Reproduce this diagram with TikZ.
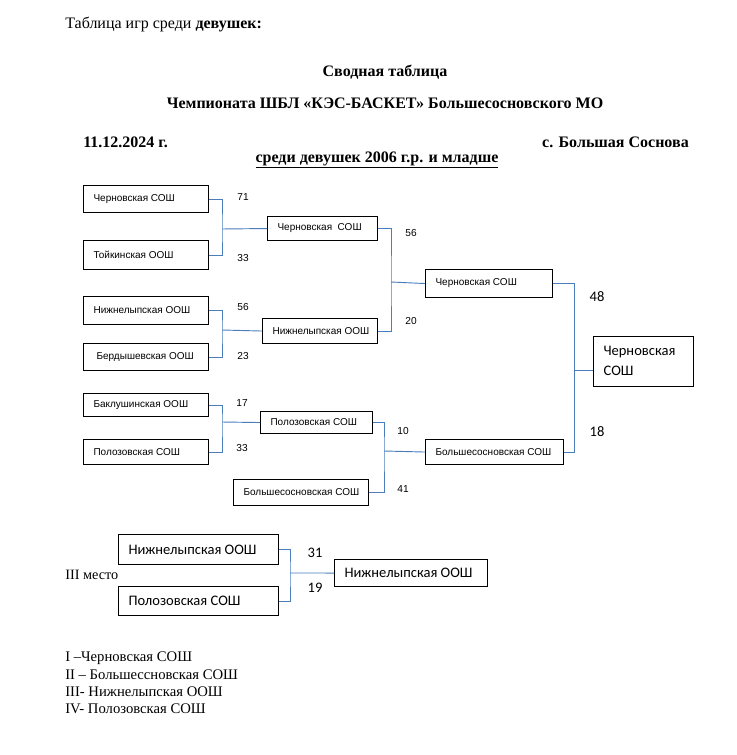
\documentclass[tikz,border=0pt]{standalone}
\usepackage{fontspec}
\setmainfont{Liberation Serif}
\newfontfamily\arialf{Liberation Sans}
\newfontfamily\calib{Carlito}
\definecolor{conncol}{HTML}{4A7EBB}
\tikzset{
  box/.style={draw=black, line width=0.8pt, anchor=north west, inner ysep=0pt, inner xsep=7.5pt, font=\arialf\fontsize{7.5}{9}\selectfont},
  bigbox/.style={box, font=\calib\fontsize{10.9}{15}\selectfont},
  conn/.style={draw=conncol, line width=0.7pt},
  score/.style={font=\arialf\fontsize{7.6}{9}\selectfont, inner sep=0pt},
  bigscore/.style={font=\calib\fontsize{10.9}{13}\selectfont, inner sep=0pt},
  ttl/.style={font=\fontsize{10.7}{12}\selectfont, inner sep=0pt},
  lst/.style={font=\fontsize{11}{12}\selectfont, inner sep=0pt, anchor=west},
  bttl/.style={font=\bfseries\fontsize{12}{14}\selectfont, inner sep=0pt},
}
\newcommand\mybox[7][box]{\node[#1, minimum width={#4*0.75pt}, minimum height={#5*0.75pt}] (#2) at (#3) {\makebox[\dimexpr 0.75pt*(#4-20)\relax][l]{#6#7}};}
\begin{document}
\begin{tikzpicture}[x=0.75pt,y=-0.75pt]
\useasboundingbox (0,0) rectangle (737,755);
% header
\node[ttl, font=\fontsize{12}{14}\selectfont, anchor=west] (h1) at (65,25) {Таблица игр среди \textbf{девушек:}};
\node[bttl] (h2) at (385,72) {Сводная таблица};
\node[bttl] (h3) at (385,103) {Чемпионата ШБЛ «КЭС-БАСКЕТ» Большесосновского МО};
\node[bttl, anchor=west] (h4) at (83,142) {11.12.2024 г.};
\node[bttl, anchor=east] (h5) at (689,142) {с. Большая Соснова};
\node[bttl] (h6) at (377,160) {\underline{среди девушек 2006 г.р. и младше}};
% round 1
\mybox{a1}{83,185}{125}{27}{}{Черновская СОШ}
\mybox{a2}{83,240}{125}{29}{}{Тойкинская ООШ}
\mybox{a3}{83,296}{125}{28}{}{Нижнелыпская ООШ}
\mybox{a4}{83,343}{125}{27}{\hspace*{2.25pt}}{Бердышевская ООШ}
\mybox{a5}{83,393}{125}{23}{}{Баклушинская ООШ}
\mybox{a6}{83,439}{125}{25}{}{Полозовская СОШ}
% round 2
\mybox{b1}{267,216}{110}{24}{}{Черновская\ \ СОШ}
\mybox{b2}{262,318}{115}{25}{}{Нижнелыпская ООШ}
\mybox{b3}{260,411}{112}{22}{}{Полозовская СОШ}
\mybox{b4}{233,479}{135}{26}{}{Большесосновская СОШ}
% round 3
\mybox{c1}{425,269}{127}{28}{}{Черновская СОШ}
\mybox{c2}{425,439}{138}{25}{}{Большесосновская СОШ}
% final
\mybox[bigbox]{fin}{593,336}{100}{50}{}{\begin{tabular}{@{}l@{}}Черновская\\СОШ\end{tabular}}
% connectors
\coordinate (j1) at (222,229);
\draw[conn] (a1.east) -| (j1) |- (a2.east);
\draw[conn] (j1) -- (b1.west);
\coordinate (j2) at (222,330);
\draw[conn] (a3.east) -| (j2) |- (a4.east);
\draw[conn] (j2) -- (b2.west);
\coordinate (j3) at (222,422);
\draw[conn] (a5.east) -| (j3) |- (a6.east);
\draw[conn] (j3) -- (b3.west);
\coordinate (j4) at (391,282);
\draw[conn] (b1.east) -| (j4) |- (b2.east);
\draw[conn] (j4) -- (c1.west);
\coordinate (j5) at (384,451);
\draw[conn] (b3.east) -| (j5) |- (b4.east);
\draw[conn] (j5) -- (c2.west);
\coordinate (j6) at (574,370);
\draw[conn] (c1.east) -| (j6) |- (c2.east);
\draw[conn] (j6) -- (fin.west |- j6);
% scores
\node[score] (s1) at (243,197) {71};
\node[score] (s2) at (243,258) {33};
\node[score] (s3) at (243,307) {56};
\node[score] (s4) at (243,356) {23};
\node[score] (s5) at (242,403) {17};
\node[score] (s6) at (242,448) {33};
\node[score] (s7) at (411,233) {56};
\node[score] (s8) at (411,321) {20};
\node[score] (s9) at (403,431) {10};
\node[score] (s10) at (403,489) {41};
\node[bigscore] (s11) at (597,297) {48};
\node[bigscore] (s12) at (597,432) {18};
% third place
\mybox[bigbox]{t1}{118,534}{160}{30}{}{Нижнелыпская ООШ}
\mybox[bigbox]{t2}{118,586}{160}{29}{}{Полозовская СОШ}
\mybox[bigbox]{t3}{334,559}{153}{27}{}{Нижнелыпская ООШ}
\coordinate (j7) at (290,573);
\draw[conn] (t1.east) -| (j7) |- (t2.east);
\draw[conn] (j7) -- (t3.west);
\node[bigscore] (s13) at (315,553) {31};
\node[bigscore] (s14) at (315,588) {19};
\node[ttl, anchor=west] (m3) at (65,575) {III место};
% list
\node[lst] (l1) at (65,658) {I –Черновская СОШ};
\node[lst] (l2) at (65,675) {II – Большессновская СОШ};
\node[lst] (l3) at (65,692) {III- Нижнелыпская ООШ};
\node[lst] (l4) at (65,709) {IV- Полозовская СОШ};
\end{tikzpicture}
\end{document}
